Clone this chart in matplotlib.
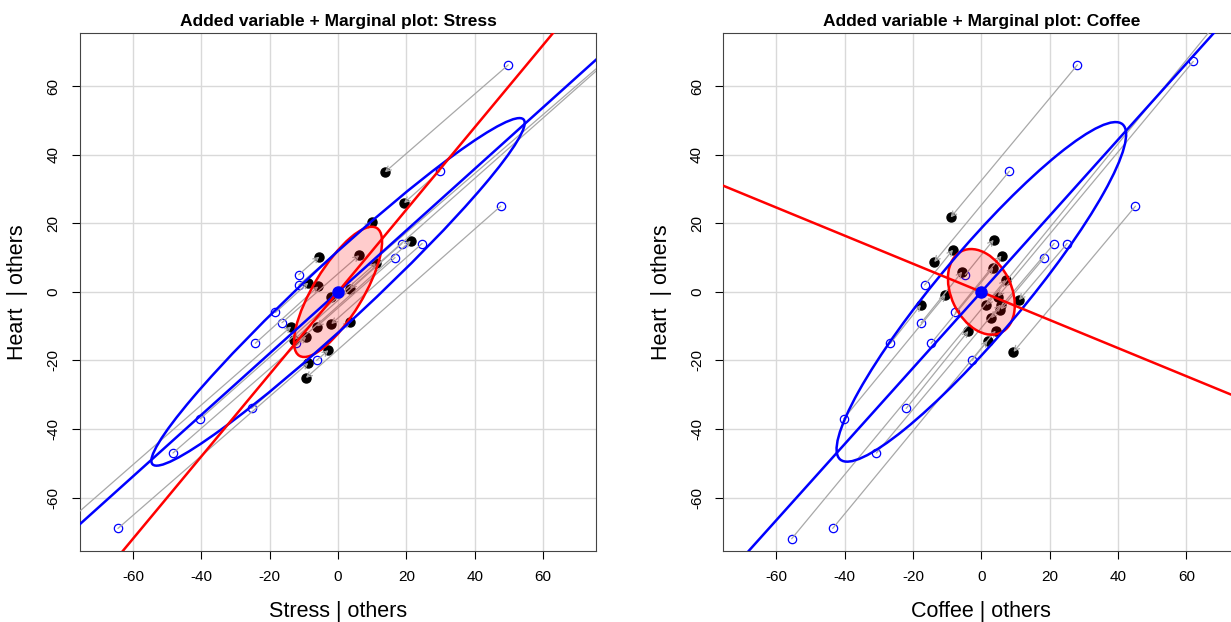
import matplotlib
matplotlib.use("Agg")
import matplotlib.pyplot as plt
from matplotlib.patches import Ellipse, FancyArrowPatch

plt.rcParams['font.family'] = ['Liberation Sans', 'DejaVu Sans']
plt.rcParams['axes.unicode_minus'] = False

# centred Heart values (shared by both panels)
heart = [66.2, 67.2, 35.2, 25.0, 14.1, 14.1, 10.0, 5.0, 2.0, -6.0,
         -9.0, -15.0, -15.0, -20.0, -34.0, -37.0, -47.0, -69.0, -72.0, 86.0]
# marginal (centred) predictor values
stress = [49.8, 78.0, 29.8, 47.6, 18.7, 24.6, 16.7, -11.5, -11.5, -18.3,
          -16.4, -24.2, -12.2, -6.3, -25.3, -40.3, -48.3, -64.4, -84.8, 100.0]
coffee = [28.1, 62.0, 8.2, 45.1, 25.1, 21.3, 18.4, -4.7, -16.6, -7.6,
          -17.6, -14.7, -26.6, -2.7, -22.0, -40.3, -30.7, -43.5, -55.5, 75.0]

# added-variable residuals, Stress panel
av_stress_x = [13.7, -2.0, 19.3, -9.4, -13.0, -2.0, -6.2, -5.5, 9.8, -8.7,
               6.2, -5.8, 21.3, -2.8, 3.5, 11.1, -9.3, -8.7, -13.7, 3.5]
av_stress_y = [34.9, -1.6, 25.9, -25.1, -14.0, -9.4, -10.1, 10.3, 20.4, 2.7,
               10.7, 1.6, 14.9, -17.0, -8.7, 8.4, -13.1, -20.7, -10.1, 0.9]
# added-variable residuals, Coffee panel
av_coffee_x = [-9.0, 4.8, -13.8, 9.4, 11.0, 2.8, 5.6, 3.6, -8.3, 5.9,
               -5.6, 3.5, -17.7, 1.8, -3.8, -10.5, 5.7, 4.2, 7.1, 1.5]
av_coffee_y = [21.7, -1.4, 8.7, -17.5, -2.4, -7.7, -5.2, 15.2, 12.3, 10.6,
               5.9, 7.1, -3.8, -14.2, -11.4, -0.9, -3.7, -11.3, 3.5, -3.9]

# fitted slopes (marginal, added-variable)
slope_marg = {'Stress': 0.897, 'Coffee': 1.11}
slope_av = {'Stress': 1.20, 'Coffee': -0.41}
# data ellipses: (width, height, angle)
ell_marg = {'Stress': (148.0, 17.6, 42.8), 'Coffee': (128.0, 24.6, 49.8)}
ell_av = {'Stress': (43.6, 14.4, 58.7), 'Coffee': (26.4, 17.6, -64.3)}

panels = [
    ('Stress', stress, av_stress_x, av_stress_y),
    ('Coffee', coffee, av_coffee_x, av_coffee_y),
]

fig = plt.figure(figsize=(12.31, 6.22), dpi=100)
axes = [fig.add_axes([0.065, 0.1146, 0.4192, 0.8323]),
        fig.add_axes([0.5876, 0.1146, 0.4192, 0.8323])]

for ax, (name, xm, xa, ya) in zip(axes, panels):
    ax.set_xlim(-75.5, 75.5)
    ax.set_ylim(-75.5, 75.5)
    ax.set_xticks(range(-60, 61, 20))
    ax.set_yticks(range(-60, 61, 20))
    ax.grid(True, color='#d9d9d9', lw=1)
    ax.set_axisbelow(True)

    ax.plot(xm, heart, 'o', mfc='none', mec='blue', ms=6, mew=0.9, zorder=3)
    ax.plot(xa, ya, 'o', color='black', ms=6.5, zorder=3)

    for x0, y0, x1, y1 in zip(xm, heart, xa, ya):
        arr = FancyArrowPatch((x0, y0), (x1, y1), arrowstyle='->',
                              mutation_scale=9, color='#a8a8a8', lw=0.9,
                              shrinkA=0, shrinkB=0, zorder=4)
        ax.add_patch(arr)

    w, h, a = ell_av[name]
    ax.add_patch(Ellipse((0, 0), w, h, angle=a, facecolor=(1, 0, 0, 0.2),
                         edgecolor='red', lw=1.8, zorder=5))
    w, h, a = ell_marg[name]
    ax.add_patch(Ellipse((0, 0), w, h, angle=a, facecolor='none',
                         edgecolor='blue', lw=1.8, zorder=5))

    ax.axline((0, 0), slope=slope_marg[name], color='blue', lw=1.8, zorder=6)
    ax.axline((0, 0), slope=slope_av[name], color='red', lw=1.8, zorder=6)
    ax.plot([0], [0], 'o', color='blue', ms=8, zorder=7)

    ax.set_title('Added variable + Marginal plot: ' + name,
                 fontsize=12.5, fontweight='bold', pad=5)
    ax.set_xlabel(name + ' | others', fontsize=15.5)
    ax.set_ylabel('Heart  | others', fontsize=15.5)
    ax.xaxis.set_label_coords(0.5, -0.098)
    ax.yaxis.set_label_coords(-0.1, 0.5)
    ax.tick_params(labelsize=11, length=6, pad=8)
    for lab in ax.get_yticklabels():
        lab.set_rotation(90)
        lab.set_va('center')
    for sp in ax.spines.values():
        sp.set_color('#444444')

fig.savefig('out.png', dpi=100)
